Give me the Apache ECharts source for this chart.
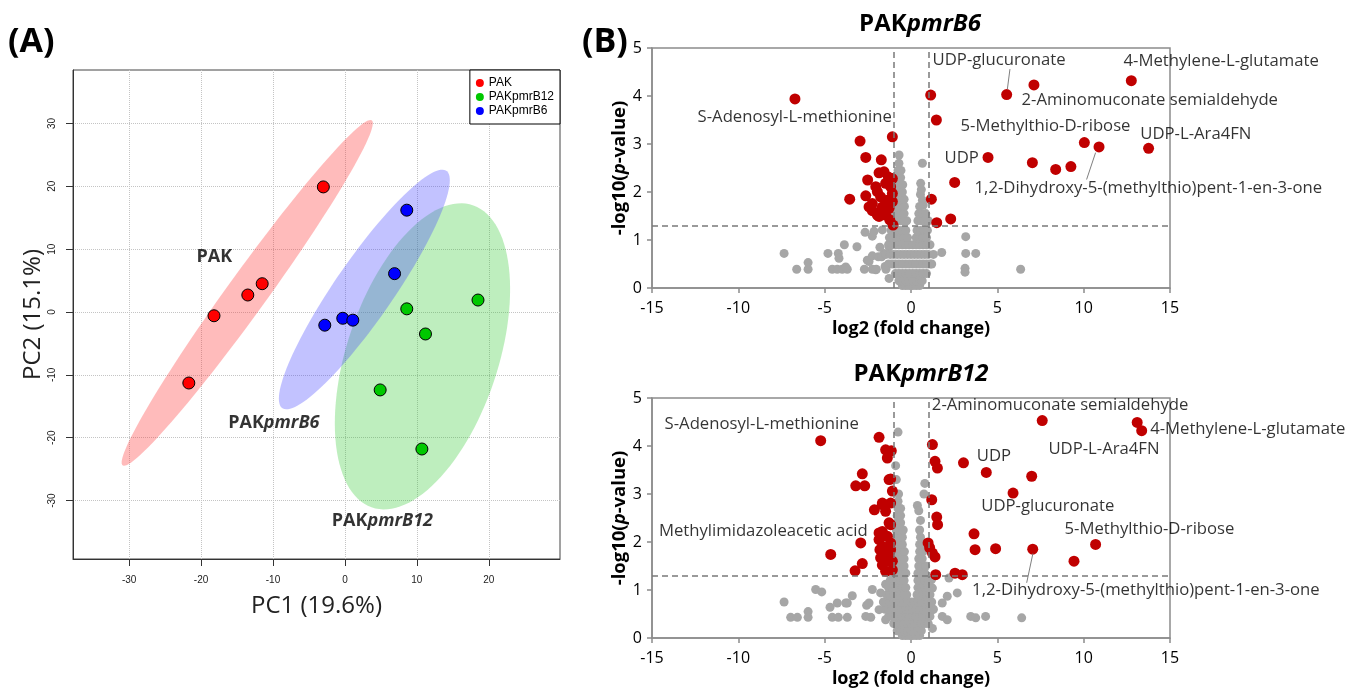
<!DOCTYPE html>
<html>
<head>
<meta charset="utf-8">
<script src="https://cdn.jsdelivr.net/npm/echarts@6.0.0/dist/echarts.min.js"></script>
<style>
html, body { margin: 0; padding: 0; background: #fff; }
#main { width: 1365px; height: 699px; }
</style>
</head>
<body>
<div id="main"></div>
<script>
// ---- (A) PCA scores ----
const groupNames = ['PAK', 'PAKpmrB12', 'PAKpmrB6'];
const pcaPAK = [[-3.0, 19.9], [-11.5, 4.5], [-13.5, 2.7], [-18.2, -0.6], [-21.7, -11.3]];
const pcaB12 = [[18.5, 1.9], [8.6, 0.5], [11.2, -3.5], [4.9, -12.4], [10.7, -21.8]];
const pcaB6 = [[8.6, 16.2], [6.9, 6.1], [-2.8, -2.1], [-0.3, -1.0], [1.1, -1.3]];
const pc1Ticks = [-30, -20, -10, 0, 10, 20];
const pc2Ticks = [-30, -20, -10, 0, 10, 20, 30];
const groupTags = [[-20.7, 8.8, '{b|PAK}'], [-16.3, -17.7, '{b|PAK}{i|pmrB6}'], [-1.9, -33.2, '{b|PAK}{i|pmrB12}']];

// ---- (B) volcano plots ----
const fcCut = [-1, 1];
const pCut = -Math.log10(0.05);

const b6Red = [
    [-6.72, 3.94], [-1.08, 3.15], [-2.95, 3.06], [-2.62, 2.72], [-1.72, 2.67], [-1.85, 2.40], [-2.51, 2.25],
    [-1.08, 2.28], [-1.47, 2.18], [-2.04, 2.11], [-2.62, 1.92], [-3.55, 1.85], [-1.08, 1.97], [-1.37, 1.83],
    [-2.24, 1.76], [-1.66, 1.69], [-2.24, 1.61], [-1.95, 1.52], [-1.47, 1.52], [-1.04, 1.31], [-1.23, 1.42],
    [-1.18, 2.11], [-1.95, 2.01], [-1.76, 1.90], [-1.08, 1.80], [-1.56, 2.42], [-1.31, 2.31], [-2.43, 1.69],
    [-1.27, 1.66], [-1.76, 1.59], [-1.85, 1.49],
    [1.14, 4.02], [1.47, 3.50], [5.54, 4.03], [7.12, 4.23], [12.76, 4.32], [4.46, 2.72], [7.03, 2.61],
    [8.38, 2.47], [9.26, 2.53], [10.04, 3.03], [10.89, 2.94], [13.76, 2.91], [2.53, 2.20], [1.18, 1.85],
    [2.30, 1.44], [1.49, 1.36]
];
const b6GrayOuter = [
    [-7.35, 0.72], [-6.62, 0.39], [-5.96, 0.53], [-5.96, 0.39], [-4.81, 0.72], [-4.21, 0.72], [-4.17, 0.62],
    [-3.86, 0.90], [-3.13, 0.86], [-4.56, 0.39], [-4.27, 0.39], [-3.98, 0.39], [-3.69, 0.39], [-3.78, 0.44],
    [-2.66, 1.16], [-2.14, 1.18], [-1.66, 1.21], [-2.24, 1.08], [-2.70, 0.39], [-2.24, 0.39], [-2.01, 0.39],
    [-2.43, 0.55], [-2.53, 0.58], [-2.24, 0.67], [-1.89, 0.65], [-1.56, 0.72], [-1.27, 0.86], [-1.45, 0.39],
    [-2.04, 0.38], [-1.27, 0.20], [-1.08, 1.00], [-1.80, 0.85], [-1.70, 0.65], [-1.50, 0.45],
    [3.17, 1.07], [3.17, 0.72], [3.75, 0.72], [3.13, 0.41], [3.13, 0.33], [1.78, 0.74], [6.35, 0.39],
    [1.30, 0.70], [1.20, 0.50], [-0.69, 2.77], [0.66, 2.60], [0.56, 2.18], [0.66, 1.83], [0.71, 1.73]
];
const b6GrayCore = [
    [-0.5, 0.05], [-0.3, 0.05], [-0.1, 0.05], [0.1, 0.05], [0.3, 0.05], [0.5, 0.05],
    [-0.7, 0.15], [-0.5, 0.15], [-0.3, 0.15], [-0.1, 0.15], [0.1, 0.15], [0.3, 0.15], [0.5, 0.15], [0.65, 0.15],
    [-0.9, 0.3], [-0.7, 0.3], [-0.5, 0.3], [-0.3, 0.3], [-0.1, 0.3], [0.1, 0.3], [0.3, 0.3], [0.5, 0.3],
    [0.7, 0.3], [0.9, 0.3],
    [-1.3, 0.5], [-1.1, 0.5], [-0.9, 0.5], [-0.7, 0.5], [-0.5, 0.5], [-0.3, 0.5], [-0.1, 0.5], [0.1, 0.5],
    [0.3, 0.5], [0.5, 0.5], [0.7, 0.5], [0.9, 0.5], [1.1, 0.5],
    [-1.45, 0.7], [-1.2, 0.7], [-1.0, 0.7], [-0.8, 0.7], [-0.6, 0.7], [-0.4, 0.7], [-0.2, 0.7], [0.0, 0.7],
    [0.2, 0.7], [0.4, 0.7], [0.6, 0.7], [0.8, 0.7], [1.0, 0.7],
    [-1.3, 0.9], [-1.1, 0.9], [-0.9, 0.9], [-0.7, 0.9], [-0.5, 0.9], [-0.3, 0.9], [-0.1, 0.9], [0.1, 0.9],
    [0.3, 0.9], [0.5, 0.9], [0.7, 0.9], [0.9, 0.9], [1.1, 0.9],
    [-1.25, 1.05], [-1.0, 1.05], [-0.8, 1.05], [-0.6, 1.05], [-0.4, 1.05], [-0.2, 1.05], [0.3, 1.05],
    [0.5, 1.05], [0.7, 1.05], [0.9, 1.05],
    [-1.15, 1.2], [-0.9, 1.2], [-0.7, 1.2], [-0.5, 1.2], [-0.3, 1.2], [0.35, 1.2], [0.55, 1.2], [0.75, 1.2],
    [0.95, 1.2],
    [-1.0, 1.4], [-0.8, 1.4], [-0.6, 1.4], [-0.4, 1.4], [-0.25, 1.4], [0.4, 1.4], [0.6, 1.4], [0.8, 1.4],
    [1.0, 1.4], [-1.0, 1.55], [-0.8, 1.55], [-0.6, 1.55], [-0.4, 1.55], [0.45, 1.55], [0.65, 1.55],
    [0.85, 1.55], [-0.95, 1.7], [-0.75, 1.7], [-0.55, 1.7], [-0.38, 1.7], [0.5, 1.7], [-0.95, 1.85],
    [-0.75, 1.85], [-0.55, 1.85], [-0.4, 1.85], [0.55, 1.95], [-0.9, 2.0], [-0.7, 2.0], [-0.5, 2.0],
    [0.6, 2.05], [-0.85, 2.15], [-0.65, 2.15], [-0.48, 2.15], [-0.8, 2.3], [-0.6, 2.3], [-0.75, 2.45],
    [-0.58, 2.45], [-0.7, 2.6]
];
const b6Labels = [
    [1.22, 4.75, 'UDP-glucuronate'], [12.28, 4.72, '4-Methylene-L-glutamate'],
    [6.37, 3.92, '2-Aminomuconate semialdehyde'], [-12.39, 3.56, 'S-Adenosyl-L-methionine'],
    [2.84, 3.38, '5-Methylthio-D-ribose'], [13.25, 3.21, 'UDP-L-Ara4FN'], [1.91, 2.71, 'UDP'],
    [3.65, 2.08, '1,2-Dihydroxy-5-(methylthio)pent-1-en-3-one']
];
const b6Leaders = [[5.73, 4.56, 5.58, 4.14], [10.69, 2.82, 10.17, 2.26]];

const b12Red = [
    [-5.23, 4.11], [-1.85, 4.18], [-1.47, 3.92], [-1.14, 3.90], [-1.37, 3.75], [-2.82, 3.42], [-3.20, 3.17],
    [-2.68, 3.17], [-1.18, 3.31], [-1.08, 3.06], [-2.12, 2.67], [-1.66, 2.78], [-1.47, 2.64], [-1.18, 2.36],
    [-2.91, 1.98], [-4.65, 1.74], [-2.82, 1.55], [-3.24, 1.40], [-1.85, 2.19], [-1.37, 2.12], [-1.85, 2.05],
    [-1.66, 1.91], [-1.18, 1.98], [-1.56, 1.77], [-1.18, 1.84], [-1.76, 1.67], [-1.37, 1.60], [-1.08, 1.42],
    [-1.47, 1.39], [-1.66, 1.52], [-1.08, 1.60], [-1.80, 1.84], [-1.27, 2.40], [-1.66, 2.22], [-1.27, 1.77],
    [-1.27, 3.30], [-1.66, 2.81], [-1.18, 2.81],
    [1.24, 4.03], [1.39, 3.68], [1.53, 3.54], [3.04, 3.65], [4.36, 3.45], [6.99, 3.37], [5.91, 3.02],
    [7.60, 4.53], [13.10, 4.49], [13.36, 4.32], [1.20, 2.88], [1.49, 2.52], [1.54, 2.36], [3.65, 2.17],
    [3.71, 1.84], [4.90, 1.86], [7.05, 1.85], [10.69, 1.95], [9.44, 1.60], [0.99, 1.98], [1.24, 1.77],
    [1.08, 1.88], [1.43, 1.32], [2.55, 1.35], [2.97, 1.32], [1.39, 1.69]
];
const b12GrayOuter = [
    [-7.35, 0.75], [-6.97, 0.43], [-6.58, 0.43], [-5.96, 0.55], [-5.96, 0.43], [-5.52, 1.01], [-5.17, 0.96],
    [-4.69, 0.64], [-4.27, 0.73], [-4.56, 0.43], [-4.21, 0.43], [-3.69, 0.43], [-3.69, 0.73], [-3.40, 0.88],
    [-3.78, 0.73], [-2.57, 0.68], [-2.43, 0.73], [-2.62, 0.45], [-2.33, 0.43], [-2.24, 1.01], [-1.76, 0.94],
    [-1.47, 1.12], [-1.85, 0.59], [-1.47, 0.38],
    [2.20, 1.25], [1.81, 0.73], [2.10, 0.87], [2.68, 0.94], [3.46, 0.45], [3.75, 0.42], [4.32, 0.45],
    [1.81, 0.45], [2.10, 0.38], [6.41, 0.42], [1.24, 1.04], [1.24, 0.59], [1.24, 0.20], [1.18, 1.21],
    [-0.75, 4.29], [-0.89, 3.59], [0.80, 3.22], [0.75, 3.00], [0.37, 2.76]
];
const b12GrayCore = [
    [-0.5, 0.05], [-0.3, 0.05], [-0.1, 0.05], [0.1, 0.05], [0.3, 0.05], [0.5, 0.05],
    [-0.8, 0.15], [-0.6, 0.15], [-0.4, 0.15], [-0.2, 0.15], [0.0, 0.15], [0.2, 0.15], [0.4, 0.15], [0.6, 0.15],
    [-1.0, 0.3], [-0.8, 0.3], [-0.6, 0.3], [-0.4, 0.3], [-0.2, 0.3], [0.0, 0.3], [0.2, 0.3], [0.4, 0.3],
    [0.6, 0.3], [0.8, 0.3], [1.0, 0.3],
    [-1.3, 0.45], [-1.1, 0.45], [-0.9, 0.45], [-0.7, 0.45], [-0.5, 0.45], [-0.3, 0.45], [-0.1, 0.45],
    [0.1, 0.45], [0.3, 0.45], [0.5, 0.45], [0.7, 0.45], [0.9, 0.45], [1.1, 0.45],
    [-1.5, 0.6], [-1.3, 0.6], [-1.1, 0.6], [-0.9, 0.6], [-0.7, 0.6], [-0.5, 0.6], [-0.3, 0.6], [-0.1, 0.6],
    [0.1, 0.6], [0.3, 0.6], [0.5, 0.6], [0.7, 0.6], [0.9, 0.6], [1.1, 0.6], [1.3, 0.6],
    [-1.6, 0.75], [-1.4, 0.75], [-1.2, 0.75], [-1.0, 0.75], [-0.8, 0.75], [-0.6, 0.75], [-0.4, 0.75],
    [-0.2, 0.75], [0.0, 0.75], [0.2, 0.75], [0.4, 0.75], [0.6, 0.75], [0.8, 0.75], [1.0, 0.75], [1.2, 0.75],
    [-1.4, 0.9], [-1.2, 0.9], [-1.0, 0.9], [-0.8, 0.9], [-0.6, 0.9], [-0.4, 0.9], [-0.25, 0.9], [0.35, 0.9],
    [0.5, 0.9], [0.7, 0.9], [0.9, 0.9], [1.1, 0.9],
    [-1.3, 1.05], [-1.1, 1.05], [-0.9, 1.05], [-0.7, 1.05], [-0.5, 1.05], [-0.3, 1.05], [0.4, 1.05],
    [0.6, 1.05], [0.8, 1.05], [1.0, 1.05],
    [-1.2, 1.2], [-1.0, 1.2], [-0.8, 1.2], [-0.6, 1.2], [-0.4, 1.2], [0.4, 1.2], [0.6, 1.2], [0.8, 1.2],
    [1.0, 1.2],
    [-1.1, 1.35], [-0.9, 1.35], [-0.7, 1.35], [-0.5, 1.35], [-0.3, 1.35], [0.4, 1.35], [0.6, 1.35],
    [0.8, 1.35], [-1.0, 1.5], [-0.8, 1.5], [-0.6, 1.5], [-0.4, 1.5], [0.45, 1.5], [0.65, 1.5], [0.85, 1.5],
    [-1.0, 1.65], [-0.8, 1.65], [-0.6, 1.65], [-0.4, 1.65], [0.45, 1.65], [0.65, 1.65],
    [-0.95, 1.8], [-0.75, 1.8], [-0.55, 1.8], [-0.38, 1.8], [0.5, 1.8], [0.7, 1.8],
    [-0.9, 1.95], [-0.7, 1.95], [-0.5, 1.95], [0.5, 1.95], [0.7, 1.95], [-0.9, 2.1], [-0.7, 2.1], [-0.5, 2.1],
    [0.55, 2.1], [-0.85, 2.25], [-0.65, 2.25], [-0.45, 2.25], [0.5, 2.25], [-0.8, 2.4], [-0.6, 2.4],
    [0.55, 2.45], [-0.8, 2.55], [-0.6, 2.55], [0.45, 2.65], [-0.75, 2.7], [-0.6, 2.7], [-0.75, 2.85],
    [-0.72, 3.0], [-0.85, 3.3]
];
const b12Labels = [
    [1.18, 4.84, '2-Aminomuconate semialdehyde'], [-14.30, 4.46, 'S-Adenosyl-L-methionine'],
    [13.82, 4.35, '4-Methylene-L-glutamate'], [7.93, 3.94, 'UDP-L-Ara4FN'], [3.78, 3.78, 'UDP'],
    [4.04, 2.74, 'UDP-glucuronate'], [8.86, 2.26, '5-Methylthio-D-ribose'],
    [-14.63, 2.22, 'Methylimidazoleacetic acid'], [3.51, 0.99, '1,2-Dihydroxy-5-(methylthio)pent-1-en-3-one']
];
const b12Leaders = [[7.06, 1.76, 6.70, 1.15]];

// 95% confidence ellipse from the group scores
function ellipse95(pts) {
    const n = pts.length;
    let mx = 0, my = 0;
    pts.forEach(p => { mx += p[0]; my += p[1]; });
    mx /= n; my /= n;
    let sxx = 0, syy = 0, sxy = 0;
    pts.forEach(p => {
        const dx = p[0] - mx, dy = p[1] - my;
        sxx += dx * dx; syy += dy * dy; sxy += dx * dy;
    });
    sxx /= n - 1; syy /= n - 1; sxy /= n - 1;
    const m = (sxx + syy) / 2, d = Math.sqrt(((sxx - syy) / 2) ** 2 + sxy * sxy);
    const ang = 0.5 * Math.atan2(2 * sxy, sxx - syy);
    const k = Math.sqrt(5.991);
    const a = k * Math.sqrt(m + d), b = k * Math.sqrt(Math.max(m - d, 0));
    const out = [];
    for (let i = 0; i < 120; i++) {
        const t = i / 120 * Math.PI * 2;
        out.push([
            mx + a * Math.cos(t) * Math.cos(ang) - b * Math.sin(t) * Math.sin(ang),
            my + a * Math.cos(t) * Math.sin(ang) + b * Math.sin(t) * Math.cos(ang)
        ]);
    }
    return {center: [mx, my], poly: out};
}
const ellipses = [ellipse95(pcaPAK), ellipse95(pcaB12), ellipse95(pcaB6)];
const ellipseFill = ['rgba(255,60,60,0.35)', 'rgba(40,200,40,0.30)', 'rgba(70,70,255,0.33)'];
const groupColor = ['#ff0000', '#00c800', '#0000ff'];

const volFont = '"Open Sans", "Noto Sans", sans-serif';
const grayAxis = '#8c8c8c';

function volcanoX(idx) {
    return {
        gridIndex: idx, type: 'value', min: -15, max: 15, interval: 5,
        axisLine: {show: true, onZero: false, lineStyle: {color: grayAxis, width: 1.5}},
        axisTick: {show: true, length: 5, lineStyle: {color: grayAxis, width: 1.5}},
        axisLabel: {fontSize: 16, color: '#000', margin: 12, fontFamily: volFont},
        splitLine: {show: false},
        name: 'log2 (fold change)', nameLocation: 'middle', nameGap: 32,
        nameTextStyle: {fontSize: 18, fontWeight: 'bold', color: '#000', fontFamily: volFont}
    };
}
function volcanoY(idx) {
    return {
        gridIndex: idx, type: 'value', min: 0, max: 5, interval: 1,
        axisLine: {show: true, onZero: false, lineStyle: {color: grayAxis, width: 1.5}},
        axisTick: {show: true, length: 5, lineStyle: {color: grayAxis, width: 1.5}},
        axisLabel: {fontSize: 16, color: '#000', margin: 10, fontFamily: volFont},
        splitLine: {show: false},
        name: '{b|-log10(}{i|p}{b|-value)}', nameLocation: 'middle', nameGap: 22,
        nameTextStyle: {
            rich: {
                b: {fontSize: 18.5, fontWeight: 'bold', color: '#000', fontFamily: volFont},
                i: {fontSize: 18.5, fontWeight: 'bold', fontStyle: 'italic', color: '#000', fontFamily: volFont}
            }
        }
    };
}
function volcanoSeries(idx, gray, red, labels, leaders) {
    return [
        {
            type: 'scatter', xAxisIndex: idx, yAxisIndex: idx, data: gray, symbolSize: 9,
            itemStyle: {color: '#a6a6a6', opacity: 1}, silent: true, z: 2,
            markLine: {
                silent: true, symbol: 'none', label: {show: false},
                lineStyle: {color: '#7a7a7a', type: [6, 4], width: 1.5},
                data: [{xAxis: fcCut[0]}, {xAxis: fcCut[1]}, {yAxis: pCut}]
            }
        },
        {
            type: 'scatter', xAxisIndex: idx, yAxisIndex: idx, data: red, symbolSize: 11,
            itemStyle: {color: '#c00000', opacity: 1}, silent: true, z: 3
        },
        {
            type: 'custom', xAxisIndex: idx, yAxisIndex: idx, data: leaders, silent: true, z: 4,
            encode: {x: [0, 2], y: [1, 3]},
            renderItem: function (params, api) {
                const p1 = api.coord([api.value(0), api.value(1)]);
                const p2 = api.coord([api.value(2), api.value(3)]);
                return {type: 'line', shape: {x1: p1[0], y1: p1[1], x2: p2[0], y2: p2[1]},
                    style: {stroke: '#7f7f7f', lineWidth: 1}};
            }
        },
        {
            type: 'scatter', xAxisIndex: idx, yAxisIndex: idx, silent: true, z: 5, symbolSize: 1,
            itemStyle: {color: 'rgba(0,0,0,0)'},
            data: labels.map(d => ({value: [d[0], d[1]], name: d[2]})),
            label: {show: true, position: 'right', distance: 0, formatter: '{b}',
                fontSize: 16.7, color: '#000', fontFamily: volFont}
        }
    ];
}

const chart = echarts.init(document.getElementById('main'));
const option = {
    animation: false,
    backgroundColor: '#fff',
    grid: [
        {left: 73, top: 70, width: 487, height: 489, show: true, borderColor: '#444', borderWidth: 1, outerBoundsMode: 'none'},
        {left: 652, top: 48, width: 518, height: 240, show: true, borderColor: grayAxis, borderWidth: 1.5, outerBoundsMode: 'none'},
        {left: 652, top: 398, width: 518, height: 240, show: true, borderColor: grayAxis, borderWidth: 1.5, outerBoundsMode: 'none'}
    ],
    xAxis: [
        {
            gridIndex: 0, type: 'value', min: -37.8, max: 29.9,
            axisLine: {show: true, onZero: false, lineStyle: {color: '#333'}},
            axisTick: {show: true, customValues: pc1Ticks, length: 7, lineStyle: {color: '#333'}},
            axisLabel: {customValues: pc1Ticks, fontSize: 10, color: '#222', margin: 16, fontFamily: 'Liberation Sans'},
            splitLine: {show: true, customValues: pc1Ticks, lineStyle: {color: '#c4c4c4', type: 'dotted'}},
            name: 'PC1 (19.6%)', nameLocation: 'middle', nameGap: 35,
            nameTextStyle: {fontSize: 24, color: '#222', fontFamily: volFont}
        },
        volcanoX(1), volcanoX(2)
    ],
    yAxis: [
        {
            gridIndex: 0, type: 'value', min: -39.3, max: 38.5,
            axisLine: {show: true, onZero: false, lineStyle: {color: '#333'}},
            axisTick: {show: true, customValues: pc2Ticks, length: 7, lineStyle: {color: '#333'}},
            axisLabel: {customValues: pc2Ticks, fontSize: 10, color: '#222', margin: 16, rotate: 90, fontFamily: 'Liberation Sans'},
            splitLine: {show: true, customValues: pc2Ticks, lineStyle: {color: '#c4c4c4', type: 'dotted'}},
            name: 'PC2 (15.1%)', nameLocation: 'middle', nameGap: 28,
            nameTextStyle: {fontSize: 24, color: '#222', fontFamily: volFont}
        },
        volcanoY(1), volcanoY(2)
    ],
    legend: {
        data: groupNames, right: 805, top: 70, orient: 'vertical', icon: 'circle',
        itemWidth: 8, itemHeight: 8, itemGap: 2, itemStyle: {borderWidth: 0},
        padding: [7, 6, 7, 6], borderColor: '#000', borderWidth: 1, borderRadius: 0, backgroundColor: '#fff',
        textStyle: {fontSize: 12, lineHeight: 12, color: '#000', fontFamily: 'Liberation Sans'}
    },
    graphic: [
        {type: 'text', x: 8, y: 42, style: {text: '(A)', fontSize: 34, fontWeight: 'bold', fontFamily: volFont, fill: '#000', verticalAlign: 'middle'}},
        {type: 'text', x: 582, y: 42, style: {text: '(B)', fontSize: 34, fontWeight: 'bold', fontFamily: volFont, fill: '#000', verticalAlign: 'middle'}},
        {type: 'text', x: 920, y: 24, style: {text: '{a|PAK}{b|pmrB6}', align: 'center', verticalAlign: 'middle',
            rich: {a: {fontSize: 24, fontWeight: 'bold', fontFamily: volFont, fill: '#000'},
                b: {fontSize: 24, fontWeight: 'bold', fontStyle: 'italic', fontFamily: volFont, fill: '#000'}}}},
        {type: 'text', x: 921, y: 374, style: {text: '{a|PAK}{b|pmrB12}', align: 'center', verticalAlign: 'middle',
            rich: {a: {fontSize: 24, fontWeight: 'bold', fontFamily: volFont, fill: '#000'},
                b: {fontSize: 24, fontWeight: 'bold', fontStyle: 'italic', fontFamily: volFont, fill: '#000'}}}}
    ],
    series: [
        {
            type: 'custom', xAxisIndex: 0, yAxisIndex: 0, silent: true, z: 1,
            data: ellipses.map(e => e.center),
            renderItem: function (params, api) {
                const pts = ellipses[params.dataIndex].poly.map(p => api.coord(p));
                return {type: 'polygon', shape: {points: pts}, style: {fill: ellipseFill[params.dataIndex]}};
            }
        },
        {name: 'PAK', type: 'scatter', xAxisIndex: 0, yAxisIndex: 0, data: pcaPAK, symbolSize: 12, z: 3,
            itemStyle: {color: groupColor[0], borderColor: '#000', borderWidth: 1, opacity: 1}},
        {name: 'PAKpmrB12', type: 'scatter', xAxisIndex: 0, yAxisIndex: 0, data: pcaB12, symbolSize: 12, z: 3,
            itemStyle: {color: groupColor[1], borderColor: '#000', borderWidth: 1, opacity: 1}},
        {name: 'PAKpmrB6', type: 'scatter', xAxisIndex: 0, yAxisIndex: 0, data: pcaB6, symbolSize: 12, z: 3,
            itemStyle: {color: groupColor[2], borderColor: '#000', borderWidth: 1, opacity: 1}},
        {
            type: 'scatter', xAxisIndex: 0, yAxisIndex: 0, silent: true, z: 4, symbolSize: 1,
            itemStyle: {color: 'rgba(0,0,0,0)'},
            data: groupTags.map(d => ({value: [d[0], d[1]], name: d[2]})),
            label: {show: true, position: 'right', distance: 0, formatter: '{b}',
                rich: {
                    b: {fontSize: 18, fontWeight: 'bold', color: '#000', fontFamily: volFont},
                    i: {fontSize: 18, fontWeight: 'bold', fontStyle: 'italic', color: '#000', fontFamily: volFont}
                }}
        }
    ].concat(volcanoSeries(1, b6GrayOuter.concat(b6GrayCore), b6Red, b6Labels, b6Leaders))
     .concat(volcanoSeries(2, b12GrayOuter.concat(b12GrayCore), b12Red, b12Labels, b12Leaders))
};
chart.setOption(option);
window.onresize = function () {
    chart.resize();
};
</script>
</body>
</html>
